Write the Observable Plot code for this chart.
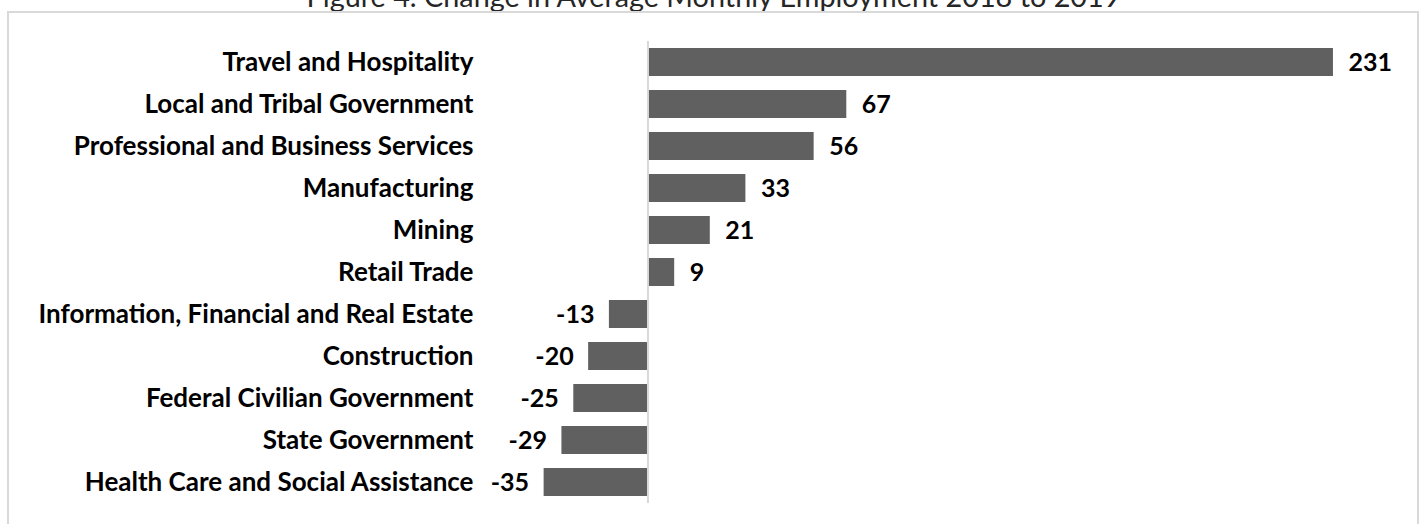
<!DOCTYPE html>
<html>
<head>
<meta charset="utf-8">
<script src="https://cdn.jsdelivr.net/npm/d3@7"></script>
<script src="https://cdn.jsdelivr.net/npm/@observablehq/plot@0.6"></script>
<style>
  html, body { margin: 0; padding: 0; background: #fff; width: 1427px; height: 524px; overflow: hidden; position: relative; }
  #title { position: absolute; left: 0; width: 1427px; top: -19px; text-align: center; font-family: Lato, sans-serif; font-size: 28.8px; color: #262626; white-space: nowrap; line-height: 30px; }
  #box { position: absolute; left: 7px; top: 11px; width: 1412px; height: 600px; border: 2px solid #d9d9d9; box-sizing: border-box; }
  #chart { position: absolute; left: 0; top: 0; }
</style>
</head>
<body>
<div id="title">Figure 4. Change in Average Monthly Employment 2018 to 2019</div>
<div id="box"></div>
<div id="chart"></div>
<script>
const categories = [
  "Travel and Hospitality",
  "Local and Tribal Government",
  "Professional and Business Services",
  "Manufacturing",
  "Mining",
  "Retail Trade",
  "Information, Financial and Real Estate",
  "Construction",
  "Federal Civilian Government",
  "State Government",
  "Health Care and Social Assistance"
];
const values = [231, 67, 56, 33, 21, 9, -13, -20, -25, -29, -35];

const data = categories.map((c, i) => ({category: c, value: values[i]}));
const font = "Lato, sans-serif";

const plot = Plot.plot({
  width: 1427,
  height: 524,
  marginLeft: 480,
  marginRight: 8,
  marginTop: 41,
  marginBottom: 21,
  style: {fontFamily: font, background: "transparent"},
  x: {domain: [-56.44, 260], axis: null},
  y: {domain: categories, paddingInner: 0.336, paddingOuter: 0.146, label: null},
  marks: [
    Plot.barX(data, {x: "value", y: "category", fill: "#606060"}),
    Plot.ruleX([0], {stroke: "#d9d9d9", strokeWidth: 2}),
    Plot.axisY({tickSize: 0, tickPadding: 7, fontSize: 26, fontWeight: "bold", fill: "#000", label: null}),
    Plot.text(data.filter(d => d.value >= 0), {x: "value", y: "category", text: d => String(d.value), textAnchor: "start", dx: 15, fontSize: 25, fontWeight: "bold", fill: "#000"}),
    Plot.text(data.filter(d => d.value < 0), {x: "value", y: "category", text: d => String(d.value), textAnchor: "end", dx: -15, fontSize: 25, fontWeight: "bold", fill: "#000"})
  ]
});
document.getElementById("chart").appendChild(plot);
</script>
</body>
</html>
